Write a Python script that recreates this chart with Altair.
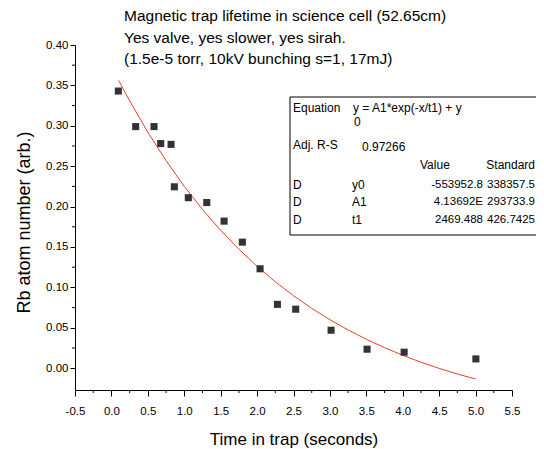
import altair as alt
import pandas as pd

# ---- data ----
time_s = [0.095, 0.333, 0.585, 0.677, 0.819, 0.864, 1.056, 1.309, 1.547, 1.798,
          2.041, 2.279, 2.530, 3.016, 3.510, 4.019, 5.004]
rb_atoms = [0.343, 0.299, 0.299, 0.278, 0.277, 0.2245, 0.211, 0.205, 0.182, 0.156,
            0.123, 0.079, 0.073, 0.047, 0.0235, 0.0198, 0.0115]

fit_t = [0.1, 0.25, 0.5, 0.75, 1.0, 1.25, 1.5, 1.75, 2.0, 2.25, 2.5, 2.75, 3.0,
         3.25, 3.5, 3.75, 4.0, 4.25, 4.5, 4.75, 5.0]
fit_y = [0.356, 0.331, 0.292, 0.257, 0.225, 0.1965, 0.1706, 0.1473, 0.1261, 0.107,
         0.0897, 0.0741, 0.060, 0.0473, 0.0358, 0.0254, 0.016, 0.0074, -0.0002,
         -0.0072, -0.0134]

title_lines = ["Magnetic trap lifetime in science cell (52.65cm)",
               "Yes valve, yes slower, yes sirah.",
               "(1.5e-5 torr, 10kV bunching s=1, 17mJ)"]

x_major_ticks = [-0.5, 0.0, 0.5, 1.0, 1.5, 2.0, 2.5, 3.0, 3.5, 4.0, 4.5, 5.0, 5.5]
x_minor_ticks = [-0.25, 0.25, 0.75, 1.25, 1.75, 2.25, 2.75, 3.25, 3.75, 4.25, 4.75, 5.25]
y_major_ticks = [0.0, 0.05, 0.10, 0.15, 0.20, 0.25, 0.30, 0.35, 0.40]
y_minor_ticks = [0.025, 0.075, 0.125, 0.175, 0.225, 0.275, 0.325, 0.375]

FONT = "Liberation Sans"
W, H = 437, 345
X_TITLE = "Time in trap (seconds)"
Y_TITLE = "Rb atom number (arb.)"

xscale = alt.Scale(domain=[-0.5, 5.5], nice=False, zero=False)
yscale = alt.Scale(domain=[-0.027, 0.40], nice=False, zero=False)

x_axis = alt.Axis(
    values=x_major_ticks,
    labelExpr="(datum.value < 0 ? '-' : '') + format(abs(datum.value), '.1f')",
    tickSize=6, labelOverlap=False,
    grid=False, domainColor="black", tickColor="black", labelColor="black",
    labelFont=FONT, labelFontSize=11.5, labelPadding=9, labelFlush=False,
    titleFont=FONT, titleFontSize=17, titleFontWeight="normal", titleColor="black",
    titlePadding=15,
)
y_axis = alt.Axis(
    values=y_major_ticks,
    labelExpr="format(datum.value, '.2f')",
    tickSize=5, labelOverlap=False,
    grid=False, domainColor="black", tickColor="black", labelColor="black",
    labelFont=FONT, labelFontSize=11.5, labelPadding=2, labelFlush=False,
    titleFont=FONT, titleFontSize=18, titleFontWeight="normal", titleColor="black",
    titlePadding=12, titleY=177,
)

pts = alt.Chart(pd.DataFrame({"t": time_s, "n": rb_atoms})).mark_square(
    size=50, color="#333333", opacity=1
).encode(
    x=alt.X("t:Q", scale=xscale, axis=x_axis, title=X_TITLE),
    y=alt.Y("n:Q", scale=yscale, axis=y_axis, title=Y_TITLE),
)

fit = alt.Chart(pd.DataFrame({"t": fit_t, "n": fit_y})).mark_line(
    color="#e8402a", strokeWidth=1
).encode(
    x=alt.X("t:Q", scale=xscale, axis=x_axis, title=X_TITLE),
    y=alt.Y("n:Q", scale=yscale, axis=y_axis, title=Y_TITLE),
)

x_minor = alt.Chart(pd.DataFrame({"t": x_minor_ticks})).mark_rule(
    color="black", strokeWidth=1
).encode(
    x=alt.X("t:Q", scale=xscale, axis=x_axis, title=X_TITLE),
    y=alt.value(H), y2=alt.value(H + 3),
)

y_minor = alt.Chart(pd.DataFrame({"n": y_minor_ticks})).mark_rule(
    color="black", strokeWidth=1
).encode(
    y=alt.Y("n:Q", scale=yscale, axis=y_axis, title=Y_TITLE),
    x=alt.value(0), x2=alt.value(-3),
)

layers = [fit, pts, x_minor, y_minor]

# title lines
for i, line in enumerate(title_lines):
    layers.append(
        alt.Chart(pd.DataFrame({"s": [line]})).mark_text(
            font=FONT, fontSize=15.5, align="left", baseline="middle", color="black"
        ).encode(text="s:N", x=alt.value(49), y=alt.value(-29 + 21.5 * i))
    )

# fit-results box
layers.append(
    alt.Chart(pd.DataFrame({"a": [0]})).mark_rect(
        fill="white", stroke="black", strokeWidth=1
    ).encode(x=alt.value(215), x2=alt.value(480), y=alt.value(52), y2=alt.value(190))
)

box_texts = [
    ("Equation", 218, 63, "left", 12),
    ("y = A1*exp(-x/t1) + y", 278, 63, "left", 12),
    ("0", 279, 77, "left", 12),
    ("Adj. R-S", 218, 100, "left", 12),
    ("0.97266", 287, 102, "left", 12),
    ("Value", 345, 120, "left", 12),
    ("Standard", 460, 120, "right", 12),
    ("D", 218, 140, "left", 12),
    ("D", 218, 157, "left", 12),
    ("D", 218, 175, "left", 12),
    ("y0", 277, 140, "left", 12),
    ("A1", 277, 157, "left", 12),
    ("t1", 277, 175, "left", 12),
    ("-553952.8", 408, 140, "right", 11.5),
    ("4.13692E", 408, 157, "right", 11.5),
    ("2469.488", 408, 175, "right", 11.5),
    ("338357.5", 460, 140, "right", 11.5),
    ("293733.9", 460, 157, "right", 11.5),
    ("426.7425", 460, 175, "right", 11.5),
]
for txt, px, py, al, fs in box_texts:
    layers.append(
        alt.Chart(pd.DataFrame({"s": [txt]})).mark_text(
            font=FONT, fontSize=fs, align=al, baseline="middle", color="black"
        ).encode(text="s:N", x=alt.value(px), y=alt.value(py))
    )

chart = alt.layer(*layers).properties(
    width=W, height=H,
    autosize=alt.AutoSizeParams(type="none"),
    padding={"left": 67, "top": 37, "right": 24, "bottom": 59},
    background="white",
).configure_view(stroke=None)

chart.save("out.html", embed_options={"renderer": "svg", "actions": False})
